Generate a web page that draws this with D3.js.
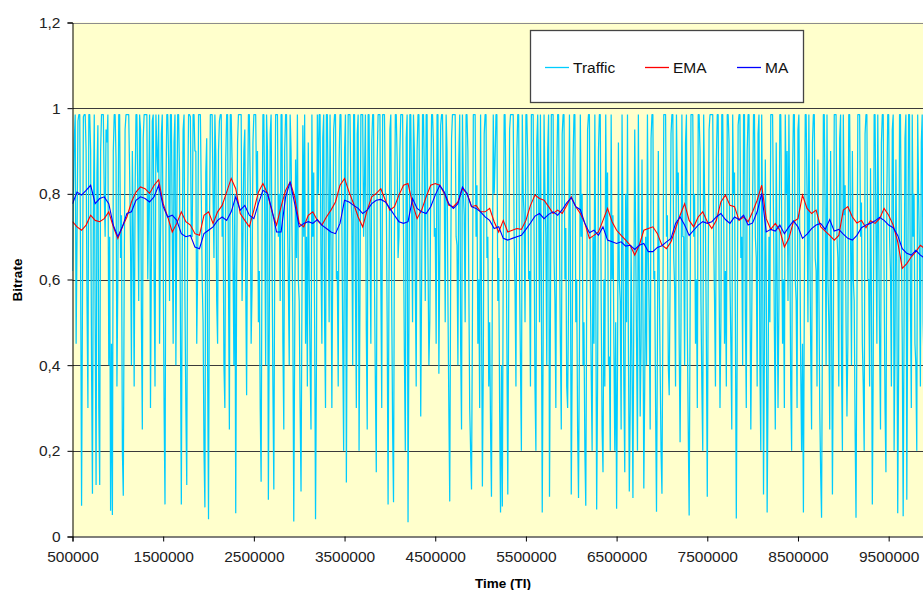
<!DOCTYPE html>
<html><head><meta charset="utf-8">
<script src="https://cdn.jsdelivr.net/npm/d3@7"></script>
<style>
html,body{margin:0;padding:0;background:#fff;}
svg{display:block;font-family:"Liberation Sans",Arial,sans-serif;}
</style></head>
<body><svg id="c" width="923" height="590"></svg>
<script>
// ---- data ----
const trafficStart = 500000, trafficStep = 10000;
const traffic = [
0.62,0.80,0.93,0.985,0.45,0.70,0.97,0.985,0.985,0.60,0.072,0.55,0.98,0.985,0.985,0.90,0.55,0.30,0.985,0.985,
0.90,0.40,0.10,0.75,0.985,0.50,0.12,0.85,0.96,0.30,0.12,0.90,0.985,0.985,0.985,0.80,0.70,0.95,0.92,0.985,
0.40,0.70,0.06,0.45,0.05,0.90,0.985,0.985,0.88,0.35,0.60,0.985,0.985,0.65,0.75,0.20,0.095,0.60,0.95,0.985,
0.985,0.985,0.985,0.85,0.68,0.40,0.90,0.70,0.35,0.80,0.985,0.985,0.80,0.55,0.985,0.95,0.50,0.25,0.93,0.985,
0.985,0.985,0.985,0.60,0.78,0.985,0.30,0.65,0.97,0.985,0.60,0.35,0.985,0.90,0.85,0.985,0.45,0.70,0.94,0.985,
0.66,0.30,0.075,0.80,0.985,0.985,0.88,0.55,0.985,0.985,0.72,0.45,0.92,0.985,0.40,0.75,0.985,0.985,0.85,0.50,
0.075,0.65,0.95,0.985,0.55,0.30,0.12,0.78,0.985,0.985,0.98,0.70,0.70,0.985,0.985,0.90,0.90,0.45,0.62,0.985,
0.985,0.985,0.80,0.60,0.50,0.20,0.068,0.85,0.93,0.40,0.04,0.70,0.985,0.985,0.985,0.80,0.65,0.985,0.89,0.55,
0.45,0.90,0.97,0.985,0.985,0.70,0.78,0.40,0.30,0.88,0.985,0.985,0.60,0.25,0.985,0.985,0.87,0.65,0.40,0.80,
0.054,0.60,0.92,0.985,0.985,0.985,0.985,0.55,0.70,0.90,0.95,0.60,0.33,0.75,0.985,0.985,0.82,0.45,0.58,0.92,
0.985,0.985,0.985,0.80,0.90,0.50,0.62,0.30,0.128,0.70,0.985,0.985,0.75,0.40,0.985,0.90,0.086,0.50,0.94,0.985,
0.68,0.35,0.11,0.65,0.985,0.985,0.985,0.70,0.80,0.55,0.985,0.985,0.45,0.25,0.90,0.985,0.985,0.75,0.60,0.40,
0.985,0.90,0.72,0.50,0.035,0.45,0.88,0.65,0.985,0.60,0.55,0.30,0.105,0.55,0.96,0.70,0.985,0.45,0.70,0.35,
0.92,0.60,0.40,0.25,0.985,0.70,0.85,0.50,0.04,0.40,0.985,0.80,0.985,0.985,0.65,0.45,0.93,0.985,0.50,0.30,
0.985,0.985,0.78,0.50,0.985,0.70,0.30,0.65,0.95,0.985,0.985,0.60,0.62,0.35,0.88,0.985,0.985,0.75,0.45,0.20,
0.90,0.985,0.126,0.60,0.985,0.985,0.985,0.80,0.74,0.40,0.985,0.985,0.58,0.30,0.94,0.985,0.20,0.55,0.985,0.985,
0.985,0.70,0.83,0.985,0.48,0.25,0.985,0.985,0.70,0.45,0.92,0.985,0.985,0.60,0.35,0.15,0.88,0.985,0.985,0.985,
0.60,0.30,0.985,0.985,0.985,0.80,0.80,0.50,0.075,0.60,0.95,0.985,0.55,0.25,0.08,0.70,0.985,0.985,0.88,0.65,
0.70,0.90,0.985,0.985,0.985,0.70,0.42,0.20,0.93,0.985,0.033,0.50,0.985,0.985,0.76,0.50,0.985,0.90,0.60,0.35,
0.90,0.985,0.985,0.70,0.28,0.60,0.985,0.985,0.85,0.55,0.985,0.985,0.65,0.40,0.50,0.80,0.985,0.985,0.92,0.70,
0.72,0.45,0.985,0.985,0.38,0.65,0.96,0.985,0.985,0.80,0.80,0.50,0.985,0.90,0.55,0.30,0.082,0.60,0.93,0.985,
0.985,0.985,0.985,0.70,0.68,0.40,0.88,0.985,0.45,0.25,0.985,0.80,0.75,0.50,0.985,0.985,0.90,0.60,0.30,0.20,
0.11,0.50,0.985,0.985,0.985,0.70,0.82,0.45,0.60,0.30,0.985,0.55,0.117,0.40,0.94,0.985,0.985,0.65,0.70,0.35,
0.50,0.25,0.093,0.60,0.985,0.80,0.88,0.985,0.985,0.55,0.65,0.30,0.056,0.40,0.07,0.65,0.985,0.985,0.80,0.45,
0.098,0.55,0.95,0.985,0.985,0.985,0.985,0.70,0.58,0.35,0.90,0.985,0.985,0.60,0.40,0.20,0.985,0.80,0.75,0.50,
0.985,0.985,0.88,0.60,0.62,0.35,0.985,0.985,0.985,0.70,0.35,0.20,0.92,0.985,0.80,0.50,0.985,0.60,0.056,0.45,
0.985,0.80,0.70,0.40,0.90,0.985,0.093,0.50,0.985,0.985,0.985,0.65,0.55,0.30,0.86,0.985,0.985,0.70,0.45,0.25,
0.94,0.985,0.985,0.60,0.72,0.35,0.30,0.55,0.985,0.70,0.098,0.40,0.88,0.985,0.985,0.50,0.60,0.25,0.09,0.45,
0.985,0.70,0.80,0.40,0.50,0.20,0.072,0.55,0.95,0.985,0.985,0.60,0.38,0.20,0.70,0.45,0.985,0.60,0.063,0.35,
0.90,0.985,0.985,0.55,0.25,0.15,0.60,0.35,0.985,0.70,0.85,0.40,0.42,0.20,0.985,0.60,0.75,0.45,0.20,0.50,
0.065,0.40,0.92,0.60,0.55,0.25,0.985,0.70,0.35,0.15,0.80,0.50,0.985,0.45,0.105,0.30,0.68,0.40,0.09,0.55,
0.95,0.70,0.45,0.20,0.985,0.60,0.28,0.45,0.88,0.55,0.112,0.35,0.70,0.40,0.985,0.65,0.50,0.25,0.93,0.985,
0.985,0.60,0.62,0.30,0.058,0.45,0.90,0.60,0.40,0.20,0.100,0.50,0.985,0.985,0.985,0.70,0.75,0.40,0.33,0.60,
0.94,0.985,0.985,0.65,0.58,0.35,0.985,0.80,0.85,0.45,0.22,0.50,0.985,0.70,0.70,0.40,0.92,0.985,0.48,0.25,
0.049,0.50,0.985,0.985,0.985,0.70,0.80,0.45,0.60,0.30,0.985,0.985,0.90,0.55,0.35,0.20,0.985,0.80,0.72,0.45,
0.093,0.60,0.95,0.985,0.985,0.985,0.985,0.70,0.55,0.35,0.88,0.985,0.985,0.60,0.30,0.50,0.985,0.985,0.78,0.45,
0.62,0.35,0.985,0.985,0.92,0.60,0.45,0.25,0.985,0.80,0.85,0.50,0.042,0.45,0.96,0.985,0.985,0.65,0.70,0.40,
0.985,0.985,0.52,0.30,0.90,0.985,0.985,0.60,0.25,0.50,0.80,0.985,0.985,0.70,0.65,0.35,0.94,0.985,0.40,0.20,
0.985,0.70,0.098,0.45,0.88,0.60,0.056,0.35,0.70,0.50,0.985,0.985,0.985,0.75,0.48,0.25,0.92,0.60,0.30,0.55,
0.985,0.985,0.75,0.45,0.60,0.30,0.985,0.80,0.90,0.55,0.985,0.70,0.35,0.20,0.85,0.985,0.985,0.60,0.55,0.30,
0.95,0.985,0.70,0.40,0.20,0.45,0.056,0.55,0.985,0.985,0.80,0.50,0.985,0.70,0.45,0.25,0.92,0.985,0.985,0.65,
0.62,0.35,0.88,0.60,0.30,0.15,0.044,0.50,0.985,0.985,0.75,0.40,0.985,0.60,0.50,0.25,0.90,0.55,0.098,0.45,
0.985,0.985,0.985,0.70,0.65,0.35,0.93,0.985,0.40,0.20,0.985,0.75,0.82,0.50,0.28,0.45,0.985,0.985,0.70,0.40,
0.90,0.60,0.55,0.25,0.044,0.50,0.985,0.985,0.985,0.70,0.78,0.45,0.35,0.20,0.94,0.985,0.985,0.60,0.60,0.35,
0.86,0.55,0.075,0.40,0.985,0.985,0.72,0.45,0.985,0.70,0.45,0.25,0.92,0.985,0.985,0.60,0.30,0.15,0.80,0.985,
0.985,0.70,0.62,0.35,0.95,0.985,0.20,0.45,0.88,0.60,0.054,0.40,0.985,0.985,0.70,0.45,0.047,0.50,0.93,0.985,
0.086,0.55,0.985,0.985,0.55,0.30,0.985,0.70,0.80,0.45,0.40,0.20,0.985,0.80,0.65,0.35,0.92,0.985,0.50,0.40,
0.30
];
const avgStart = 500000, avgStep = 50000;
const ema = [
0.735,0.723,0.715,0.727,0.750,0.738,0.735,0.742,0.758,0.723,
0.696,0.723,0.746,0.781,0.804,0.816,0.812,0.801,0.820,0.833,
0.777,0.746,0.711,0.731,0.758,0.735,0.727,0.707,0.703,0.750,
0.758,0.731,0.758,0.773,0.804,0.836,0.812,0.754,0.738,0.723,
0.762,0.804,0.824,0.801,0.758,0.727,0.770,0.808,
0.828,0.793,0.731,0.723,0.750,0.758,0.738,0.727,0.746,0.762,
0.781,0.820,0.836,0.804,0.777,0.746,0.723,0.762,0.793,0.801,
0.812,0.785,0.762,0.770,0.797,0.820,0.824,0.777,0.742,0.762,
0.793,0.820,0.824,0.820,0.801,0.773,0.770,0.781,0.812,0.801,
0.770,0.773,0.758,0.758,0.766,0.735,0.711,
0.738,0.711,0.715,0.719,0.717,0.738,0.773,0.797,0.789,0.785,
0.770,0.754,0.762,0.754,0.773,0.793,0.770,0.754,0.731,0.696,
0.703,0.711,0.738,0.766,0.735,0.715,0.703,0.692,0.680,0.657,
0.680,0.715,0.719,0.723,0.707,0.680,0.672,0.688,0.719,0.750,
0.777,0.738,0.723,0.746,0.758,0.735,0.719,
0.738,0.781,0.797,0.773,0.770,0.738,0.746,0.735,0.758,0.785,
0.820,0.742,0.717,0.731,0.715,0.676,0.696,0.735,0.742,0.797,
0.766,0.754,0.762,0.723,0.713,0.703,0.692,0.703,0.762,0.770,
0.746,0.732,0.738,0.721,0.737,0.731,0.742,0.766,0.750,0.727,
0.688,0.626,0.637,0.653,0.665,0.680,0.672
];
const ma = [
0.777,0.804,0.797,0.808,0.820,0.777,0.789,0.793,0.777,0.727,
0.700,0.723,0.754,0.758,0.785,0.793,0.789,0.781,0.793,0.820,
0.770,0.746,0.750,0.738,0.707,0.700,0.703,0.676,0.672,0.707,
0.715,0.723,0.738,0.746,0.738,0.758,0.793,0.762,0.773,0.750,
0.742,0.777,0.808,0.801,0.762,0.711,0.711,0.793,
0.828,0.777,0.723,0.731,0.735,0.731,0.740,0.727,0.719,0.711,
0.707,0.731,0.785,0.781,0.773,0.766,0.754,0.762,0.777,0.785,
0.787,0.781,0.766,0.750,0.735,0.731,0.735,0.789,0.766,0.758,
0.754,0.770,0.797,0.820,0.804,0.777,0.766,0.777,0.816,0.801,
0.770,0.766,0.758,0.746,0.738,0.719,0.723,
0.696,0.692,0.696,0.700,0.703,0.717,0.732,0.748,0.754,0.742,
0.752,0.758,0.750,0.763,0.779,0.791,0.770,0.763,0.731,0.709,
0.715,0.703,0.723,0.692,0.688,0.684,0.688,0.678,0.680,0.670,
0.680,0.684,0.665,0.665,0.675,0.679,0.688,0.696,0.731,0.746,
0.727,0.703,0.715,0.727,0.735,0.731,0.735,
0.746,0.754,0.740,0.731,0.746,0.740,0.750,0.727,0.732,0.758,
0.801,0.711,0.717,0.713,0.727,0.707,0.723,0.737,0.723,0.696,
0.706,0.719,0.727,0.731,0.717,0.740,0.713,0.717,0.706,0.696,
0.692,0.703,0.721,0.727,0.731,0.737,0.745,0.738,0.727,0.721,
0.703,0.672,0.661,0.657,0.668,0.657,0.649
];
const yTicks = [0, 0.2, 0.4, 0.6, 0.8, 1, 1.2];
const xTicks = [500000,1500000,2500000,3500000,4500000,5500000,6500000,7500000,8500000,9500000];
const seriesNames = ["Traffic","EMA","MA"];
const seriesColors = ["#00CCFF","#FF0000","#0000FF"];

// ---- chart ----
const svg = d3.select("#c");
const W = 923, H = 590;
const x = d3.scaleLinear().domain([500000, 10000000]).range([72.5, 934]);
const y = d3.scaleLinear().domain([0, 1.2]).range([536.5, 22.5]);
const fmtY = v => d3.format("")(Math.round(v*10)/10).replace(".", ",");

svg.append("defs").append("clipPath").attr("id","clip")
  .append("rect").attr("x",72.5).attr("y",22).attr("width",W-72.5).attr("height",515);

svg.append("rect").attr("x",72.5).attr("y",22.5).attr("width",W-72.5).attr("height",514)
  .attr("fill","#FFFFCC");

// gridlines
svg.append("g").selectAll("line").data(yTicks.filter(d=>d>0)).join("line")
  .attr("x1",72.5).attr("x2",W)
  .attr("y1",d=>Math.round(y(d))+0.5).attr("y2",d=>Math.round(y(d))+0.5)
  .attr("stroke",d=>d===1.2?"#8c8c8c":"#3a3a3a").attr("stroke-width",1);

const plot = svg.append("g").attr("clip-path","url(#clip)");
const tData = traffic.map((v,i)=>[trafficStart+i*trafficStep, v]);
const eData = ema.map((v,i)=>[avgStart+i*avgStep, v]);
const mData = ma.map((v,i)=>[avgStart+i*avgStep, v]);
const line = d3.line().x(d=>x(d[0])).y(d=>y(d[1]));
plot.append("path").datum(tData).attr("d",line).attr("fill","none")
  .attr("stroke",seriesColors[0]).attr("stroke-width",1.25).attr("stroke-linejoin","bevel");
plot.append("path").datum(eData).attr("d",line).attr("fill","none")
  .attr("stroke",seriesColors[1]).attr("stroke-width",1.1);
plot.append("path").datum(mData).attr("d",line).attr("fill","none")
  .attr("stroke",seriesColors[2]).attr("stroke-width",1.1);

// axes
const yAxis = d3.axisLeft(y).tickValues(yTicks).tickSize(5).tickPadding(7).tickFormat(fmtY);
const gy = svg.append("g").attr("transform","translate(72.5,0)").call(yAxis);
gy.select(".domain").attr("stroke","#000");
gy.selectAll(".tick line").attr("stroke","#000");
gy.selectAll(".tick text").attr("font-size","15.5px").attr("fill","#222")
  .attr("font-family","'Liberation Sans',Arial,sans-serif");

const xAxis = d3.axisBottom(x).tickValues(xTicks).tickSize(5).tickPadding(9).tickFormat(d3.format("d"));
const gx = svg.append("g").attr("transform","translate(0,536.5)").call(xAxis);
gx.select(".domain").attr("stroke","#000");
gx.selectAll(".tick line").attr("stroke","#000");
gx.selectAll(".tick text").attr("font-size","15.5px").attr("fill","#222")
  .attr("font-family","'Liberation Sans',Arial,sans-serif");

// axis titles
svg.append("text").attr("x",503).attr("y",588).attr("text-anchor","middle")
  .attr("font-weight","bold").attr("font-size","13.5px").text("Time (TI)");
svg.append("text").attr("transform","translate(22,280) rotate(-90)").attr("text-anchor","middle")
  .attr("font-weight","bold").attr("font-size","13.5px").text("Bitrate");

// legend
const lg = svg.append("g");
lg.append("rect").attr("x",530.5).attr("y",30.5).attr("width",273).attr("height",72)
  .attr("fill","#fff").attr("stroke","#444").attr("stroke-width",1.3);
const lx = [545, 645, 737];
seriesNames.forEach((n,i)=>{
  lg.append("line").attr("x1",lx[i]).attr("x2",lx[i]+24).attr("y1",67.5).attr("y2",67.5)
    .attr("stroke",seriesColors[i]).attr("stroke-width",1.3);
  lg.append("text").attr("x",lx[i]+28).attr("y",73).attr("font-size","15.5px")
    .attr("fill","#111").text(n);
});
</script></body></html>
